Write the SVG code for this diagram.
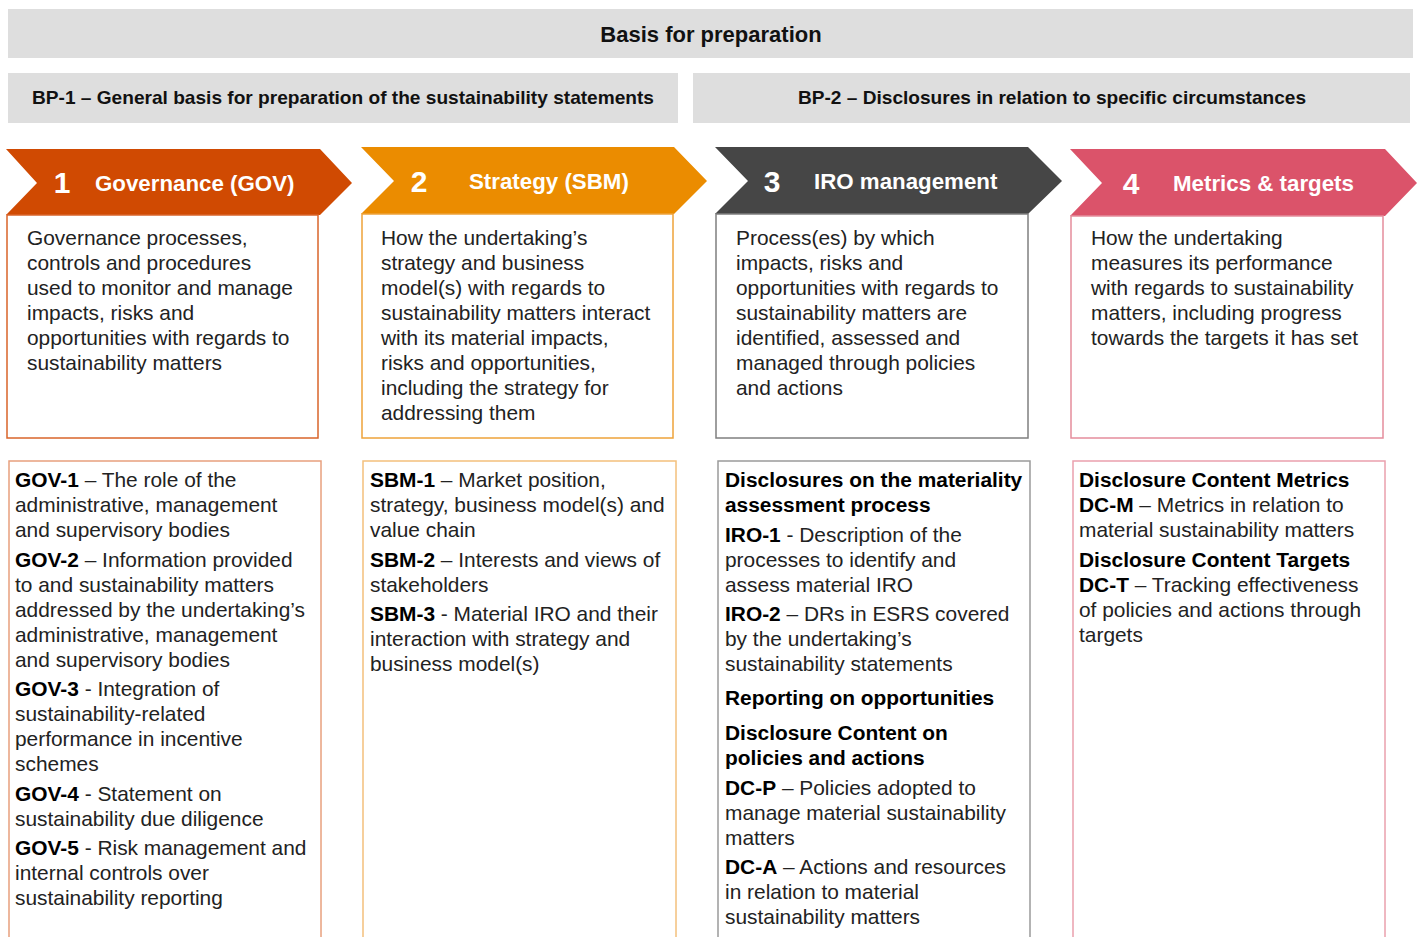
<svg xmlns="http://www.w3.org/2000/svg" width="1420" height="937" viewBox="0 0 1420 937">
<style>
.bar{fill:#dedede;}
.bt{font-family:"Liberation Sans",Arial,sans-serif;font-weight:bold;fill:#111;}
.ht{font-family:"Liberation Sans",Arial,sans-serif;font-weight:bold;fill:#fff;font-size:22.3px;}
.hn{font-family:"Liberation Sans",Arial,sans-serif;font-weight:bold;fill:#fff;font-size:30px;text-anchor:middle;}
.tx{font-family:"Liberation Sans",Arial,sans-serif;font-size:20.9px;fill:#222;}
.b{font-weight:bold;fill:#000;}
.box{fill:#fff;stroke-width:1.5;}
</style>
<rect width="1420" height="937" fill="#fff"/>
<g id="basis">
<rect class="bar" x="8" y="9" width="1405" height="49"/>
<text class="bt" x="711" y="42" font-size="22" text-anchor="middle">Basis for preparation</text>
</g>
<g id="bp1">
<rect class="bar" x="8" y="73" width="670" height="50"/>
<text class="bt" x="32" y="104" font-size="19" textLength="622" lengthAdjust="spacingAndGlyphs">BP-1 – General basis for preparation of the sustainability statements</text>
</g>
<g id="bp2">
<rect class="bar" x="693" y="73" width="717" height="50"/>
<text class="bt" x="798" y="104" font-size="19" textLength="508" lengthAdjust="spacingAndGlyphs">BP-2 – Disclosures in relation to specific circumstances</text>
</g>

<g id="gov-header">
<polygon points="6,149 320,149 352,183 320,215 6,215 37,183" fill="#d04a02"/>
<text class="hn" x="62" y="193">1</text>
<text class="ht" x="95" y="191">Governance (GOV)</text>
</g>
<g id="sbm-header">
<polygon points="361,147 674,147 707,181 674,214 361,214 394,181" fill="#eb8c00"/>
<text class="hn" x="419" y="192">2</text>
<text class="ht" x="469" y="189">Strategy (SBM)</text>
</g>
<g id="iro-header">
<polygon points="715,147 1028,147 1062,181 1028,214 715,214 748,181" fill="#464646"/>
<text class="hn" x="772" y="192">3</text>
<text class="ht" x="814" y="189">IRO management</text>
</g>
<g id="mt-header">
<polygon points="1070,149 1385,149 1417,183 1385,216 1070,216 1102,183" fill="#db536a"/>
<text class="hn" x="1131" y="194">4</text>
<text class="ht" x="1173" y="191">Metrics &amp; targets</text>
</g>

<g id="gov-desc">
<rect class="box" x="7" y="215" width="311" height="223" stroke="#d9642a"/>
<text class="tx" x="27" y="245">Governance processes,</text>
<text class="tx" x="27" y="270">controls and procedures</text>
<text class="tx" x="27" y="295">used to monitor and manage</text>
<text class="tx" x="27" y="320">impacts, risks and</text>
<text class="tx" x="27" y="345">opportunities with regards to</text>
<text class="tx" x="27" y="370">sustainability matters</text>
</g>
<g id="sbm-desc">
<rect class="box" x="362" y="214" width="311" height="224" stroke="#eea33a"/>
<text class="tx" x="381" y="245">How the undertaking’s</text>
<text class="tx" x="381" y="270">strategy and business</text>
<text class="tx" x="381" y="295">model(s) with regards to</text>
<text class="tx" x="381" y="320">sustainability matters interact</text>
<text class="tx" x="381" y="345">with its material impacts,</text>
<text class="tx" x="381" y="370">risks and opportunities,</text>
<text class="tx" x="381" y="395">including the strategy for</text>
<text class="tx" x="381" y="420">addressing them</text>
</g>
<g id="iro-desc">
<rect class="box" x="716" y="214" width="312" height="224" stroke="#7f7f7f"/>
<text class="tx" x="736" y="245">Process(es) by which</text>
<text class="tx" x="736" y="270">impacts, risks and</text>
<text class="tx" x="736" y="295">opportunities with regards to</text>
<text class="tx" x="736" y="320">sustainability matters are</text>
<text class="tx" x="736" y="345">identified, assessed and</text>
<text class="tx" x="736" y="370">managed through policies</text>
<text class="tx" x="736" y="395">and actions</text>
</g>
<g id="mt-desc">
<rect class="box" x="1071" y="216" width="312" height="222" stroke="#e58d9c"/>
<text class="tx" x="1091" y="245">How the undertaking</text>
<text class="tx" x="1091" y="270">measures its performance</text>
<text class="tx" x="1091" y="295">with regards to sustainability</text>
<text class="tx" x="1091" y="320">matters, including progress</text>
<text class="tx" x="1091" y="345">towards the targets it has set</text>
</g>

<g id="gov-list">
<rect class="box" x="9" y="461" width="312" height="490" stroke="#e8a07e"/>
<text class="tx" x="15" y="487"><tspan class="b">GOV-1</tspan> – The role of the</text>
<text class="tx" x="15" y="512">administrative, management</text>
<text class="tx" x="15" y="537">and supervisory bodies</text>
<text class="tx" x="15" y="567"><tspan class="b">GOV-2</tspan> – Information provided</text>
<text class="tx" x="15" y="592">to and sustainability matters</text>
<text class="tx" x="15" y="617">addressed by the undertaking’s</text>
<text class="tx" x="15" y="642">administrative, management</text>
<text class="tx" x="15" y="667">and supervisory bodies</text>
<text class="tx" x="15" y="696"><tspan class="b">GOV-3</tspan> - Integration of</text>
<text class="tx" x="15" y="721">sustainability-related</text>
<text class="tx" x="15" y="746">performance in incentive</text>
<text class="tx" x="15" y="771">schemes</text>
<text class="tx" x="15" y="801"><tspan class="b">GOV-4</tspan> - Statement on</text>
<text class="tx" x="15" y="826">sustainability due diligence</text>
<text class="tx" x="15" y="855"><tspan class="b">GOV-5</tspan> - Risk management and</text>
<text class="tx" x="15" y="880">internal controls over</text>
<text class="tx" x="15" y="905">sustainability reporting</text>
</g>
<g id="sbm-list">
<rect class="box" x="363" y="461" width="313" height="490" stroke="#f3c07c"/>
<text class="tx" x="370" y="487"><tspan class="b">SBM-1</tspan> – Market position,</text>
<text class="tx" x="370" y="512">strategy, business model(s) and</text>
<text class="tx" x="370" y="537">value chain</text>
<text class="tx" x="370" y="567"><tspan class="b">SBM-2</tspan> – Interests and views of</text>
<text class="tx" x="370" y="592">stakeholders</text>
<text class="tx" x="370" y="621"><tspan class="b">SBM-3</tspan> - Material IRO and their</text>
<text class="tx" x="370" y="646">interaction with strategy and</text>
<text class="tx" x="370" y="671">business model(s)</text>
</g>
<g id="iro-list">
<rect class="box" x="718" y="461" width="312" height="490" stroke="#9a9a9a"/>
<text class="tx b" x="725" y="487">Disclosures on the materiality</text>
<text class="tx b" x="725" y="512">assessment process</text>
<text class="tx" x="725" y="542"><tspan class="b">IRO-1</tspan> - Description of the</text>
<text class="tx" x="725" y="567">processes to identify and</text>
<text class="tx" x="725" y="592">assess material IRO</text>
<text class="tx" x="725" y="621"><tspan class="b">IRO-2</tspan> – DRs in ESRS covered</text>
<text class="tx" x="725" y="646">by the undertaking’s</text>
<text class="tx" x="725" y="671">sustainability statements</text>
<text class="tx b" x="725" y="705">Reporting on opportunities</text>
<text class="tx b" x="725" y="740">Disclosure Content on</text>
<text class="tx b" x="725" y="765">policies and actions</text>
<text class="tx" x="725" y="795"><tspan class="b">DC-P</tspan> – Policies adopted to</text>
<text class="tx" x="725" y="820">manage material sustainability</text>
<text class="tx" x="725" y="845">matters</text>
<text class="tx" x="725" y="874"><tspan class="b">DC-A</tspan> – Actions and resources</text>
<text class="tx" x="725" y="899">in relation to material</text>
<text class="tx" x="725" y="924">sustainability matters</text>
</g>
<g id="mt-list">
<rect class="box" x="1073" y="461" width="312" height="490" stroke="#eaa0ad"/>
<text class="tx b" x="1079" y="487">Disclosure Content Metrics</text>
<text class="tx" x="1079" y="512"><tspan class="b">DC-M</tspan> – Metrics in relation to</text>
<text class="tx" x="1079" y="537">material sustainability matters</text>
<text class="tx b" x="1079" y="567">Disclosure Content Targets</text>
<text class="tx" x="1079" y="592"><tspan class="b">DC-T</tspan> – Tracking effectiveness</text>
<text class="tx" x="1079" y="617">of policies and actions through</text>
<text class="tx" x="1079" y="642">targets</text>
</g>
</svg>
